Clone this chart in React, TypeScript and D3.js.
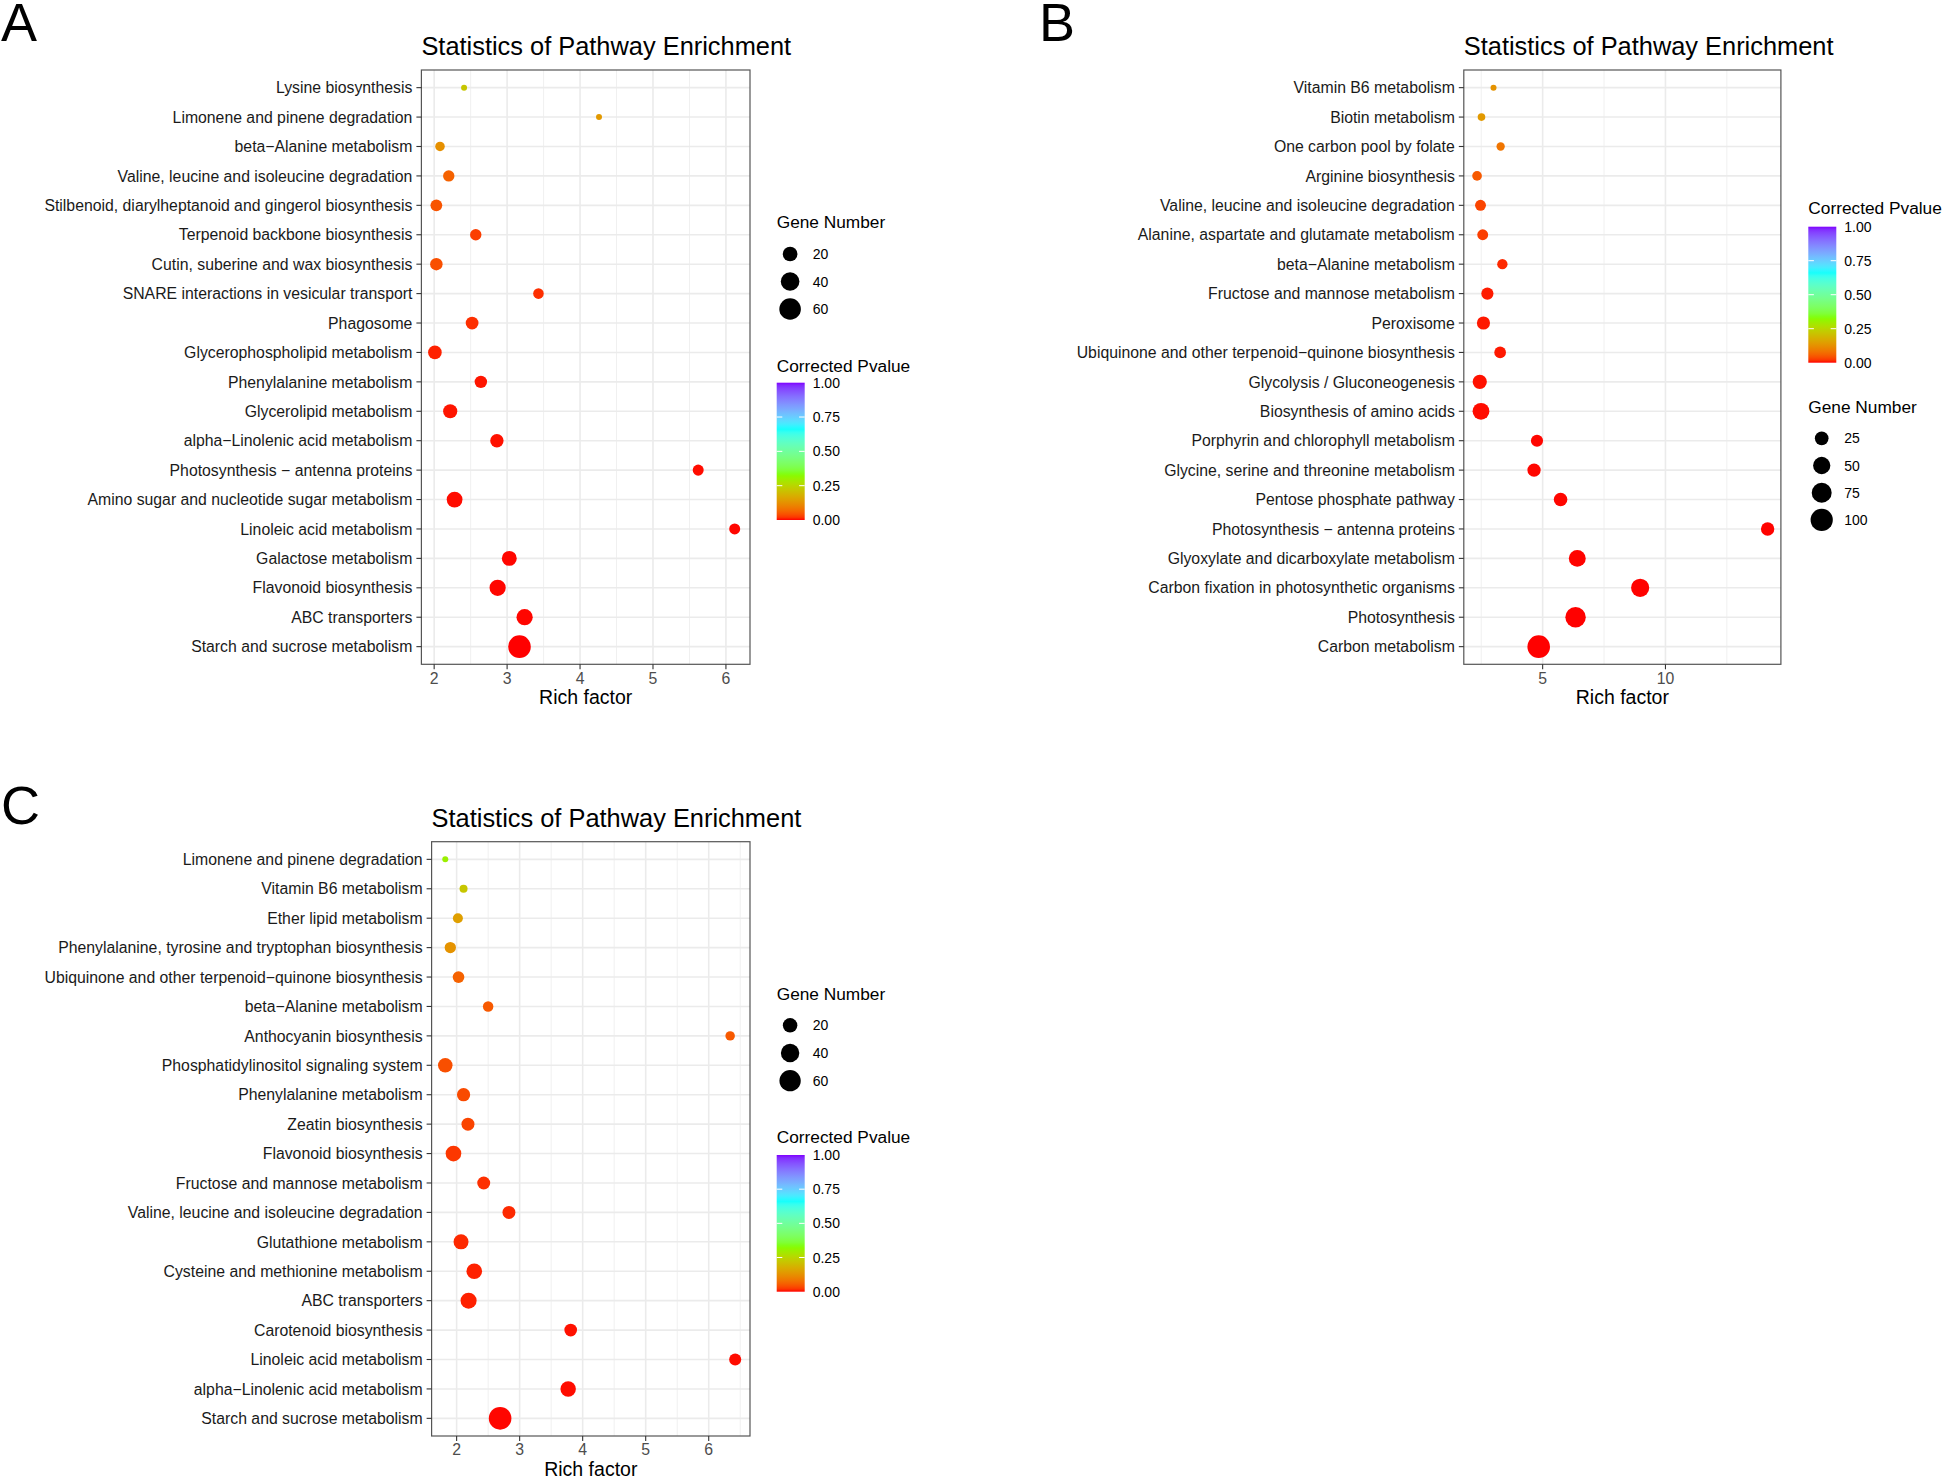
import React from "react";
import * as d3 from "d3";

const FONT = "'Liberation Sans', Arial, Helvetica, sans-serif";

// ---------------- Panel A ----------------
const pathwaysA = [
  "Lysine biosynthesis",
  "Limonene and pinene degradation",
  "beta\u2212Alanine metabolism",
  "Valine, leucine and isoleucine degradation",
  "Stilbenoid, diarylheptanoid and gingerol biosynthesis",
  "Terpenoid backbone biosynthesis",
  "Cutin, suberine and wax biosynthesis",
  "SNARE interactions in vesicular transport",
  "Phagosome",
  "Glycerophospholipid metabolism",
  "Phenylalanine metabolism",
  "Glycerolipid metabolism",
  "alpha\u2212Linolenic acid metabolism",
  "Photosynthesis \u2212 antenna proteins",
  "Amino sugar and nucleotide sugar metabolism",
  "Linoleic acid metabolism",
  "Galactose metabolism",
  "Flavonoid biosynthesis",
  "ABC transporters",
  "Starch and sucrose metabolism",
];
const richA = [2.41, 4.26, 2.08, 2.2, 2.03, 2.57, 2.03, 3.43, 2.52, 2.01, 2.64, 2.22, 2.86, 5.62, 2.28, 6.12, 3.03, 2.87, 3.24, 3.17];
const genesA = [2, 2, 5, 9, 10, 9, 12, 7, 13, 16, 12, 18, 15, 8, 25, 8, 21, 27, 27, 68];
const pvalA = [0.22, 0.14, 0.125, 0.06, 0.045, 0.025, 0.04, 0.015, 0.015, 0.008, 0.004, 0.004, 0.003, 0.002, 0.002, 0.001, 0.001, 0.001, 0.001, 0.0];
const xTicksA = [2, 3, 4, 5, 6];
const sizeBreaksA = [20, 40, 60];

// ---------------- Panel B ----------------
const pathwaysB = [
  "Vitamin B6 metabolism",
  "Biotin metabolism",
  "One carbon pool by folate",
  "Arginine biosynthesis",
  "Valine, leucine and isoleucine degradation",
  "Alanine, aspartate and glutamate metabolism",
  "beta\u2212Alanine metabolism",
  "Fructose and mannose metabolism",
  "Peroxisome",
  "Ubiquinone and other terpenoid\u2212quinone biosynthesis",
  "Glycolysis / Gluconeogenesis",
  "Biosynthesis of amino acids",
  "Porphyrin and chlorophyll metabolism",
  "Glycine, serine and threonine metabolism",
  "Pentose phosphate pathway",
  "Photosynthesis \u2212 antenna proteins",
  "Glyoxylate and dicarboxylate metabolism",
  "Carbon fixation in photosynthetic organisms",
  "Photosynthesis",
  "Carbon metabolism",
];
const richB = [3.0, 2.51, 3.29, 2.33, 2.47, 2.56, 3.36, 2.75, 2.59, 3.27, 2.44, 2.49, 4.77, 4.65, 5.73, 14.16, 6.41, 8.97, 6.34, 4.84];
const genesB = [3, 4, 5, 8, 12, 12, 10, 17, 22, 15, 28, 46, 17, 23, 24, 23, 47, 58, 80, 105];
const pvalB = [0.13, 0.14, 0.085, 0.05, 0.03, 0.025, 0.012, 0.006, 0.005, 0.005, 0.003, 0.002, 0.001, 0.001, 0.001, 0.0005, 0.0005, 0.0003, 0.0002, 0.0001];
const xTicksB = [5, 10];
const sizeBreaksB = [25, 50, 75, 100];

// ---------------- Panel C ----------------
const pathwaysC = [
  "Limonene and pinene degradation",
  "Vitamin B6 metabolism",
  "Ether lipid metabolism",
  "Phenylalanine, tyrosine and tryptophan biosynthesis",
  "Ubiquinone and other terpenoid\u2212quinone biosynthesis",
  "beta\u2212Alanine metabolism",
  "Anthocyanin biosynthesis",
  "Phosphatidylinositol signaling system",
  "Phenylalanine metabolism",
  "Zeatin biosynthesis",
  "Flavonoid biosynthesis",
  "Fructose and mannose metabolism",
  "Valine, leucine and isoleucine degradation",
  "Glutathione metabolism",
  "Cysteine and methionine metabolism",
  "ABC transporters",
  "Carotenoid biosynthesis",
  "Linoleic acid metabolism",
  "alpha\u2212Linolenic acid metabolism",
  "Starch and sucrose metabolism",
];
const richC = [1.82, 2.11, 2.02, 1.9, 2.03, 2.5, 6.34, 1.82, 2.11, 2.18, 1.95, 2.43, 2.83, 2.07, 2.28, 2.19, 3.81, 6.42, 3.77, 2.69];
const genesC = [2, 3, 6, 9, 10, 7, 5, 20, 15, 14, 25, 14, 14, 22, 25, 27, 13, 11, 24, 70];
const pvalC = [0.3, 0.22, 0.15, 0.13, 0.06, 0.05, 0.05, 0.04, 0.035, 0.03, 0.02, 0.015, 0.012, 0.012, 0.008, 0.008, 0.003, 0.002, 0.002, 0.001];
const xTicksC = [2, 3, 4, 5, 6];
const sizeBreaksC = [20, 40, 60];

// shared
const colorBreaks = [0, 0.25, 0.5, 0.75, 1];
const colorBreakLabels = ["0.00", "0.25", "0.50", "0.75", "1.00"];
const rainbow4 = ["#FF0000", "#80FF00", "#00FFFF", "#8000FF"];
const TITLE = "Statistics of Pathway Enrichment";
const XLABEL = "Rich factor";

const colorScale = d3
  .scaleLinear<string>()
  .domain([0, 1 / 3, 2 / 3, 1])
  .range(rainbow4)
  .interpolate(d3.interpolateLab)
  .clamp(true);

const R_MIN = 3;
const R_MAX = 11.3;

function makeSize(genes: number[]) {
  const ext = d3.extent(genes) as [number, number];
  const t = d3.scaleLinear().domain(ext).range([0, 1]);
  return (g: number) => R_MIN + (R_MAX - R_MIN) * Math.sqrt(Math.max(0, t(g)));
}

function minorTicks(major: number[], domain: [number, number]) {
  const step = major.length > 1 ? major[1] - major[0] : 1;
  const out: number[] = [];
  for (let v = major[0] - step; v <= major[major.length - 1] + step + 1e-9; v += step / 2) {
    const isMajor = major.some((m) => Math.abs(m - v) < 1e-9);
    if (!isMajor && v > domain[0] && v < domain[1]) out.push(v);
  }
  return out;
}

type Box = { x0: number; x1: number; y0: number; y1: number };
type LegendSpec = {
  x: number;
  sizeTitleY: number;
  sizeKeyY: number;
  sizeKeyStep: number;
  colorTitleY: number;
  barTop: number;
  barH: number;
};

function Panel(props: {
  id: string;
  letter: string;
  letterX: number;
  letterY: number;
  cats: string[];
  rich: number[];
  genes: number[];
  pval: number[];
  xTicks: number[];
  xDomain: [number, number];
  sizeBreaks: number[];
  box: Box;
  legend: LegendSpec;
}) {
  const { id, letter, letterX, letterY, cats, rich, genes, pval, xTicks, xDomain, sizeBreaks, box, legend } = props;
  const x = d3.scaleLinear().domain(xDomain).range([box.x0, box.x1]);
  const y = d3.scalePoint<string>().domain(cats).range([box.y0, box.y1]).padding(0.6);
  const size = makeSize(genes);
  const minors = minorTicks(xTicks, xDomain);
  const barW = 28;
  const barScale = d3.scaleLinear().domain([0, 1]).range([legend.barTop + legend.barH, legend.barTop]);
  const gradStops = d3.range(0, 1.0001, 0.02);
  const gid = `grad-${id}`;
  const labelX = legend.x + 36;
  const keyCx = legend.x + 13.4;

  return (
    <g>
      <defs>
        <linearGradient id={gid} x1="0" y1="1" x2="0" y2="0">
          {gradStops.map((s) => (
            <stop key={s} offset={s} stopColor={colorScale(s)} />
          ))}
        </linearGradient>
      </defs>
      <text x={letterX} y={letterY} fontSize={54} fontFamily={FONT} fill="#000">
        {letter}
      </text>
      <text x={box.x0} y={box.y0 - 15} fontSize={25.4} fontFamily={FONT} fill="#000">
        {TITLE}
      </text>
      <rect x={box.x0} y={box.y0} width={box.x1 - box.x0} height={box.y1 - box.y0} fill="#fff" />
      {minors.map((v) => (
        <line key={`mn${v}`} x1={x(v)} x2={x(v)} y1={box.y0} y2={box.y1} stroke="#F0F0F0" strokeWidth={1} />
      ))}
      {xTicks.map((v) => (
        <line key={`mj${v}`} x1={x(v)} x2={x(v)} y1={box.y0} y2={box.y1} stroke="#EBEBEB" strokeWidth={1.6} />
      ))}
      {cats.map((c) => (
        <line key={`hg${c}`} x1={box.x0} x2={box.x1} y1={y(c)} y2={y(c)} stroke="#EBEBEB" strokeWidth={1.6} />
      ))}
      {cats.map((c, i) => (
        <circle key={`pt${c}`} cx={x(rich[i])} cy={y(c)} r={size(genes[i])} fill={colorScale(pval[i])} />
      ))}
      <rect
        x={box.x0}
        y={box.y0}
        width={box.x1 - box.x0}
        height={box.y1 - box.y0}
        fill="none"
        stroke="#555"
        strokeWidth={1.2}
      />
      {/* y axis */}
      {cats.map((c) => (
        <g key={`yl${c}`}>
          <line x1={box.x0 - 5} x2={box.x0} y1={y(c)} y2={y(c)} stroke="#333" strokeWidth={1.1} />
          <text
            x={box.x0 - 9}
            y={y(c)}
            dy="0.36em"
            textAnchor="end"
            fontSize={15.8}
            fontFamily={FONT}
            fill="#1A1A1A"
          >
            {c}
          </text>
        </g>
      ))}
      {/* x axis */}
      {xTicks.map((v) => (
        <g key={`xt${v}`}>
          <line x1={x(v)} x2={x(v)} y1={box.y1} y2={box.y1 + 5} stroke="#333" strokeWidth={1.1} />
          <text x={x(v)} y={box.y1 + 19.2} textAnchor="middle" fontSize={15.8} fontFamily={FONT} fill="#4D4D4D">
            {v}
          </text>
        </g>
      ))}
      <text
        x={(box.x0 + box.x1) / 2}
        y={box.y1 + 40}
        textAnchor="middle"
        fontSize={19.5}
        fontFamily={FONT}
        fill="#000"
      >
        {XLABEL}
      </text>
      {/* size legend */}
      <text x={legend.x} y={legend.sizeTitleY} fontSize={17.3} fontFamily={FONT} fill="#000">
        Gene Number
      </text>
      {sizeBreaks.map((b, i) => {
        const cy = legend.sizeKeyY + i * legend.sizeKeyStep;
        return (
          <g key={`sk${b}`}>
            <circle cx={keyCx} cy={cy} r={size(b)} fill="#000" />
            <text x={labelX} y={cy} dy="0.36em" fontSize={14} fontFamily={FONT} fill="#000">
              {b}
            </text>
          </g>
        );
      })}
      {/* colour legend */}
      <text x={legend.x} y={legend.colorTitleY} fontSize={17.3} fontFamily={FONT} fill="#000">
        Corrected Pvalue
      </text>
      <rect x={legend.x} y={legend.barTop} width={barW} height={legend.barH} fill={`url(#${gid})`} />
      {colorBreaks.map((b, i) => (
        <g key={`cb${b}`}>
          {b > 0 && b < 1 ? (
            <g>
              <line x1={legend.x} x2={legend.x + 5.6} y1={barScale(b)} y2={barScale(b)} stroke="#fff" strokeWidth={1} />
              <line
                x1={legend.x + barW - 5.6}
                x2={legend.x + barW}
                y1={barScale(b)}
                y2={barScale(b)}
                stroke="#fff"
                strokeWidth={1}
              />
            </g>
          ) : null}
          <text x={labelX} y={barScale(b)} dy="0.36em" fontSize={14} fontFamily={FONT} fill="#000">
            {colorBreakLabels[i]}
          </text>
        </g>
      ))}
    </g>
  );
}

export default function App() {
  return (
    <svg
      width={1944}
      height={1481}
      style={{ position: "absolute", left: 0, top: 0, display: "block", background: "#fff" }}
      xmlns="http://www.w3.org/2000/svg"
    >
      <rect x={0} y={0} width={1944} height={1481} fill="#fff" />
      <Panel
        id="A"
        letter="A"
        letterX={1}
        letterY={41}
        cats={pathwaysA}
        rich={richA}
        genes={genesA}
        pval={pvalA}
        xTicks={xTicksA}
        xDomain={[1.825, 6.33]}
        sizeBreaks={sizeBreaksA}
        box={{ x0: 421.4, x1: 750, y0: 70, y1: 664.3 }}
        legend={{ x: 776.7, sizeTitleY: 228, sizeKeyY: 254, sizeKeyStep: 27.5, colorTitleY: 371.7, barTop: 382.7, barH: 137.3 }}
      />
      <Panel
        id="B"
        letter="B"
        letterX={1039}
        letterY={41}
        cats={pathwaysB}
        rich={richB}
        genes={genesB}
        pval={pvalB}
        xTicks={xTicksB}
        xDomain={[1.79, 14.7]}
        sizeBreaks={sizeBreaksB}
        box={{ x0: 1463.8, x1: 1780.9, y0: 70, y1: 664.3 }}
        legend={{ x: 1808.3, sizeTitleY: 412.7, sizeKeyY: 438.3, sizeKeyStep: 27.2, colorTitleY: 214.3, barTop: 226.7, barH: 136 }}
      />
      <Panel
        id="C"
        letter="C"
        letterX={1}
        letterY={824}
        cats={pathwaysC}
        rich={richC}
        genes={genesC}
        pval={pvalC}
        xTicks={xTicksC}
        xDomain={[1.603, 6.655]}
        sizeBreaks={sizeBreaksC}
        box={{ x0: 431.6, x1: 750, y0: 841.7, y1: 1436 }}
        legend={{ x: 776.7, sizeTitleY: 1000, sizeKeyY: 1025.3, sizeKeyStep: 27.7, colorTitleY: 1143.3, barTop: 1155, barH: 136.7 }}
      />
    </svg>
  );
}
